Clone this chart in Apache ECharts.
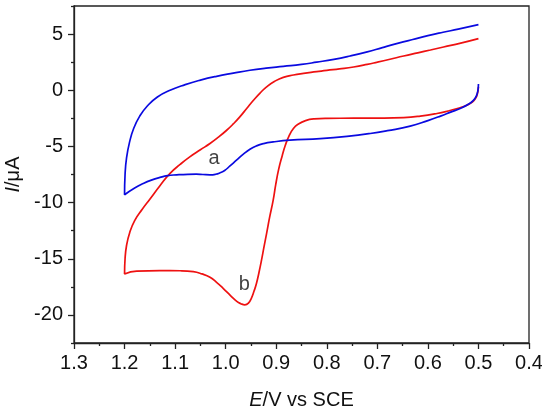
<!DOCTYPE html>
<html>
<head>
<meta charset="utf-8">
<script src="https://cdn.jsdelivr.net/npm/echarts@6/dist/echarts.min.js"></script>
<style>
html,body{margin:0;padding:0;background:#fff}
#chart{width:542px;height:416px}
</style>
</head>
<body>
<div id="chart"></div>
<script>

// cyclic voltammograms, E in V, I in uA

const curveA = [
[0.5,0.55],[0.501,0],[0.504,-0.5],[0.51,-0.9],[0.52,-1.25],[0.535,-1.6],[0.555,-1.95],
[0.575,-2.3],[0.6,-2.7],[0.635,-3.2],[0.68,-3.6],[0.714,-3.85],[0.76,-4.1],[0.813,-4.3],
[0.873,-4.44],[0.906,-4.6],[0.925,-4.75],[0.939,-4.95],[0.952,-5.25],[0.965,-5.69],
[0.978,-6.2],[0.992,-6.76],[1.002,-7.15],[1.011,-7.35],[1.02,-7.48],[1.031,-7.53],
[1.045,-7.5],[1.058,-7.47],[1.075,-7.48],[1.097,-7.53],[1.115,-7.6],[1.13,-7.76],
[1.147,-8.0],[1.163,-8.3],[1.18,-8.7],[1.2,-9.3],
[1.199,-7.5],[1.196,-6],[1.19,-4.6],[1.182,-3.4],[1.17,-2.3],[1.155,-1.4],[1.135,-0.6],
[1.11,0.0],[1.08,0.5],[1.05,0.9],[1.018,1.24],[0.985,1.52],[0.952,1.78],[0.92,1.97],
[0.886,2.13],[0.85,2.3],[0.82,2.5],[0.786,2.75],[0.754,3.05],[0.72,3.42],[0.69,3.8],
[0.66,4.17],[0.63,4.52],[0.6,4.86],[0.57,5.16],[0.54,5.44],[0.5,5.84]
]

const curveB = [
[0.5,0.3],[0.502,-0.3],[0.506,-0.75],[0.512,-1.05],[0.523,-1.33],[0.54,-1.6],[0.56,-1.85],
[0.582,-2.07],[0.615,-2.3],[0.648,-2.43],[0.7,-2.48],[0.747,-2.49],[0.8,-2.5],[0.825,-2.55],
[0.842,-2.7],[0.856,-3.0],[0.866,-3.4],[0.875,-4.1],[0.882,-4.9],[0.888,-5.8],[0.895,-7.0],
[0.901,-8.4],[0.906,-9.78],[0.913,-11.3],[0.919,-12.74],[0.924,-13.9],[0.929,-15.1],
[0.934,-16.2],[0.939,-17.18],[0.944,-17.9],[0.949,-18.5],[0.955,-18.95],[0.962,-19.1],
[0.97,-19.0],[0.978,-18.8],[0.99,-18.3],[1.005,-17.63],[1.018,-17.1],[1.031,-16.65],
[1.047,-16.35],[1.064,-16.15],[1.09,-16.07],[1.13,-16.06],[1.176,-16.1],[1.2,-16.35],
[1.199,-15],[1.196,-13.8],[1.19,-12.7],[1.18,-11.6],[1.165,-10.6],[1.15,-9.7],[1.13,-8.5],
[1.11,-7.4],[1.09,-6.6],[1.071,-5.93],[1.05,-5.3],[1.031,-4.74],[1.015,-4.2],[0.998,-3.56],
[0.985,-3.0],[0.972,-2.37],[0.958,-1.6],[0.945,-0.89],[0.932,-0.25],[0.919,0.3],[0.903,0.8],
[0.886,1.15],[0.866,1.36],[0.846,1.5],[0.82,1.65],[0.8,1.77],[0.775,1.9],[0.747,2.07],
[0.72,2.3],[0.7,2.5],[0.675,2.76],[0.648,3.05],[0.62,3.33],[0.595,3.58],[0.569,3.85],
[0.535,4.2],[0.5,4.6]
]

const curveLabels = ["a","b"]
const labelPoints = [[1.023,-6.07],[0.963,-17.33]]

const xTicks = [0.4,0.5,0.6,0.7,0.8,0.9,1.0,1.1,1.2,1.3]
const xMinorTicks = [0.45,0.55,0.65,0.75,0.85,0.95,1.05,1.15,1.25]
const yTicks = [-20,-15,-10,-5,0,5]
const yMinorTicks = [-22.5,-17.5,-12.5,-7.5,-2.5,2.5,7.5]

const FONT = "Liberation Sans, Arial, sans-serif"
const INK = "#222"
const TXT = "#111"
const FS = 20

const chart = echarts.init(document.getElementById("chart"))

function xAxisBase(){
return {
type:"value",
min:0.4,
max:1.3,
inverse:true,
position:"bottom",
gridIndex:0,
splitLine:{show:false}
}
}

function yAxisBase(){
return {
type:"value",
min:-22.5,
max:7.5,
position:"left",
gridIndex:0,
splitLine:{show:false}
}
}

chart.setOption({

animation:false,

grid:{
left:74,
right:13,
top:6,
bottom:73,
show:true,
borderColor:INK,
borderWidth:1.3,
outerBoundsMode:"none"
},

xAxis:[
Object.assign(xAxisBase(),{
axisLine:{show:true,onZero:false,lineStyle:{color:INK,width:1.3}},
axisTick:{show:true,inside:false,length:6,customValues:xTicks,lineStyle:{color:INK,width:1.3}},
axisLabel:{
customValues:xTicks,
margin:10,
fontFamily:FONT,
fontSize:FS,
color:TXT,
formatter:v => v.toFixed(1)
},
name:"{i|E}/V vs SCE",
nameLocation:"middle",
nameGap:47,
nameTextStyle:{
fontFamily:FONT,
fontSize:FS,
color:TXT,
rich:{i:{fontFamily:FONT,fontSize:FS,fontStyle:"italic",color:TXT}}
}
}),
Object.assign(xAxisBase(),{
axisLine:{show:false,onZero:false},
axisTick:{show:true,inside:false,length:3,customValues:xMinorTicks,lineStyle:{color:INK,width:1.3}},
axisLabel:{show:false}
})
],

yAxis:[
Object.assign(yAxisBase(),{
axisLine:{show:true,onZero:false,lineStyle:{color:INK,width:1.3}},
axisTick:{show:true,inside:false,length:6,customValues:yTicks,lineStyle:{color:INK,width:1.3}},
axisLabel:{
customValues:yTicks,
margin:11,
fontFamily:FONT,
fontSize:FS,
color:TXT
},
name:"{i|I}/μA",
nameLocation:"middle",
nameGap:47,
nameTextStyle:{
fontFamily:FONT,
fontSize:FS,
color:TXT,
rich:{i:{fontFamily:FONT,fontSize:FS,fontStyle:"italic",color:TXT}}
}
}),
Object.assign(yAxisBase(),{
axisLine:{show:false,onZero:false},
axisTick:{show:true,inside:false,length:3,customValues:yMinorTicks,lineStyle:{color:INK,width:1.3}},
axisLabel:{show:false}
})
],

series:[
{
name:"a",
type:"line",
xAxisIndex:0,
yAxisIndex:0,
data:curveA,
smooth:0.5,
showSymbol:false,
lineStyle:{color:"#0a0ae0",width:1.7},
z:3
},
{
name:"b",
type:"line",
xAxisIndex:0,
yAxisIndex:0,
data:curveB,
smooth:0.5,
showSymbol:false,
lineStyle:{color:"#ee1111",width:1.7},
z:2
},
{
type:"scatter",
xAxisIndex:0,
yAxisIndex:0,
symbolSize:0,
data:labelPoints.map((p,i) => ({value:p,name:curveLabels[i]})),
label:{
show:true,
position:"inside",
formatter:p => p.name,
fontFamily:FONT,
fontSize:20,
color:TXT
},
z:4
}
]

})

</script>
</body>
</html>
